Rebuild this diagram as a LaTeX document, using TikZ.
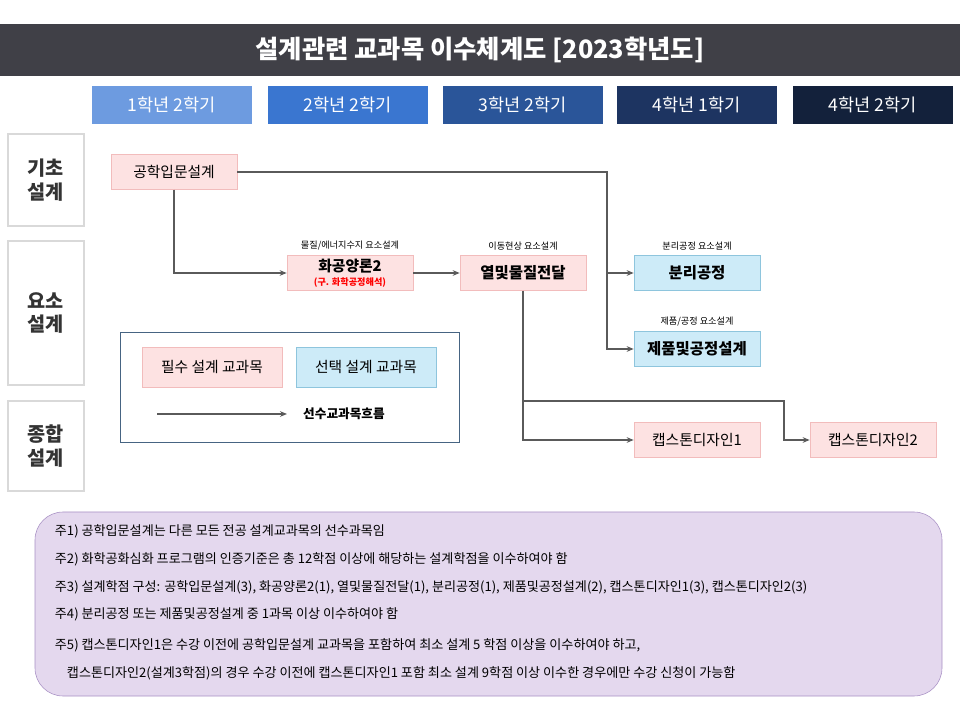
\documentclass[tikz,border=0pt]{standalone}
\usepackage{fontspec}
\setmainfont{Noto Sans CJK KR}
\usetikzlibrary{positioning,arrows.meta}
\definecolor{titlegray}{HTML}{404047}
\definecolor{pinkfill}{HTML}{FDE2E2}
\definecolor{pinkline}{HTML}{F2BCBC}
\definecolor{bluefill}{HTML}{CDEBF8}
\definecolor{blueline}{HTML}{8EC5DD}
\definecolor{flowgray}{HTML}{5A5A5A}
\definecolor{notefill}{HTML}{E4D8EE}
\definecolor{noteline}{HTML}{A890C4}

\begin{document}
\begin{tikzpicture}[x=0.025cm,y=-0.025cm,
	must/.style={draw=pinkline,fill=pinkfill,minimum width=3.15cm,minimum height=0.87cm,inner sep=1pt,font=\fontsize{10.5}{12}\selectfont,align=center},
	pick/.style={must,draw=blueline,fill=bluefill,font=\fontsize{11}{12}\selectfont\bfseries},
	year/.style={minimum width=4cm,minimum height=0.95cm,text=white,font=\fontsize{12.5}{14}\selectfont,inner sep=0},
	cat/.style={draw=black!15,line width=1.2pt,minimum width=1.9cm,font=\fontsize{14}{17}\selectfont\bfseries,align=center,text=black!80},
	tag/.style={font=\fontsize{6.5}{8}\selectfont},
	flow/.style={draw=flowgray,line width=1.1pt,-{Stealth[length=5pt,width=4pt]}},
	note/.style={anchor=west,font=\fontsize{9.3}{11}\selectfont},
]
\useasboundingbox (0,0) rectangle (960,720);
% title and years
\fill[titlegray] (0,24) rectangle (960,76);
\node[text=white,font=\fontsize{18}{21}\selectfont\bfseries] (title) at (480,50) {설계관련 교과목 이수체계도 [2023학년도]};
\node[year,fill={rgb,255:red,109;green,155;blue,224}] (y1) at (172,105) {1학년 2학기};
\node[year,fill={rgb,255:red,58;green,118;blue,208}] (y2) at (348,105) {2학년 2학기};
\node[year,fill={rgb,255:red,42;green,85;blue,153}] (y3) at (523,105) {3학년 2학기};
\node[year,fill={rgb,255:red,29;green,52;blue,97}] (y4) at (697,105) {4학년 1학기};
\node[year,fill={rgb,255:red,19;green,33;blue,59}] (y5) at (873,105) {4학년 2학기};
% categories
\node[cat,minimum height=2.3cm] (basic) at (46,180) {기초\\설계};
\node[cat,minimum height=3.6cm] (elem) at (46,313) {요소\\설계};
\node[cat,minimum height=2.25cm] (synth) at (46,446) {종합\\설계};
% courses
\node[must] (intro) at (174,172) {공학입문설계};
\node[must] (balance) at (350,273) {{\bfseries 화공양론2}\\[-2pt]{\color{red}\fontsize{6.5}{7}\selectfont\bfseries (구. 화학공정해석)}};
\node[must,font=\fontsize{11}{12}\selectfont\bfseries] (heat) at (523,273) {열및물질전달};
\node[pick] (sep) at (697,273) {분리공정};
\node[pick] (prod) at (697,349) {제품및공정설계};
\node[must] (cap1) at (697,440) {캡스톤디자인1};
\node[must] (cap2) at (873,440) {캡스톤디자인2};
\node[tag,above=0pt of balance] {물질/에너지수지 요소설계};
\node[tag,above=0pt of heat] {이동현상 요소설계};
\node[tag,above=0pt of sep] {분리공정 요소설계};
\node[tag,above=0pt of prod] {제품/공정 요소설계};
% flows
\coordinate (jsep) at (607,273);
\coordinate (jcap) at (523,401);
\draw[flow] (intro.south) |- (balance.west);
\draw[flow] (intro.east) -| (607,349) -- (prod.west);
\draw[flow] (jsep) -- (sep.west);
\draw[flow] (balance.east) -- (heat.west);
\draw[flow] (heat.south) |- (cap1.west);
\draw[flow] (jcap) -| (784,440) -- (cap2.west);
% legend
\draw[draw={rgb,255:red,70;green,100;blue,130}] (120,332) rectangle (459,442);
\node[must,minimum width=3.5cm,minimum height=1cm] (lmust) at (212,367) {필수 설계 교과목};
\node[must,draw=blueline,fill=bluefill,minimum width=3.5cm,minimum height=1cm] (lpick) at (366,367) {선택 설계 교과목};
\coordinate (lstart) at (157,414);
\coordinate (lend) at (287,414);
\draw[flow] (lstart) -- (lend);
\node[font=\fontsize{9}{11}\selectfont\bfseries,right=8pt of lend] (lflow) {선수교과목흐름};
% notes
\draw[draw=noteline,fill=notefill,rounded corners=0.7cm] (35,512) rectangle (942,696);
\node[note] (n1) at (50,531) {주1) 공학입문설계는 다른 모든 전공 설계교과목의 선수과목임};
\node[note] (n2) at (50,559) {주2) 화학공화심화 프로그램의 인증기준은 총 12학점 이상에 해당하는 설계학점을 이수하여야 함};
\node[note] (n3) at (50,587) {주3) 설계학점 구성: 공학입문설계(3), 화공양론2(1), 열및물질전달(1), 분리공정(1), 제품및공정설계(2), 캡스톤디자인1(3), 캡스톤디자인2(3)};
\node[note] (n4) at (50,614) {주4) 분리공정 또는 제품및공정설계 중 1과목 이상 이수하여야 함};
\node[note] (n5) at (50,645) {주5) 캡스톤디자인1은 수강 이전에 공학입문설계 교과목을 포함하여 최소 설계 5 학점 이상을 이수하여야 하고,};
\node[note] (n6) at (62,673) {캡스톤디자인2(설계3학점)의 경우 수강 이전에 캡스톤디자인1 포함 최소 설계 9학점 이상 이수한 경우에만 수강 신청이 가능함};
\end{tikzpicture}
\end{document}
